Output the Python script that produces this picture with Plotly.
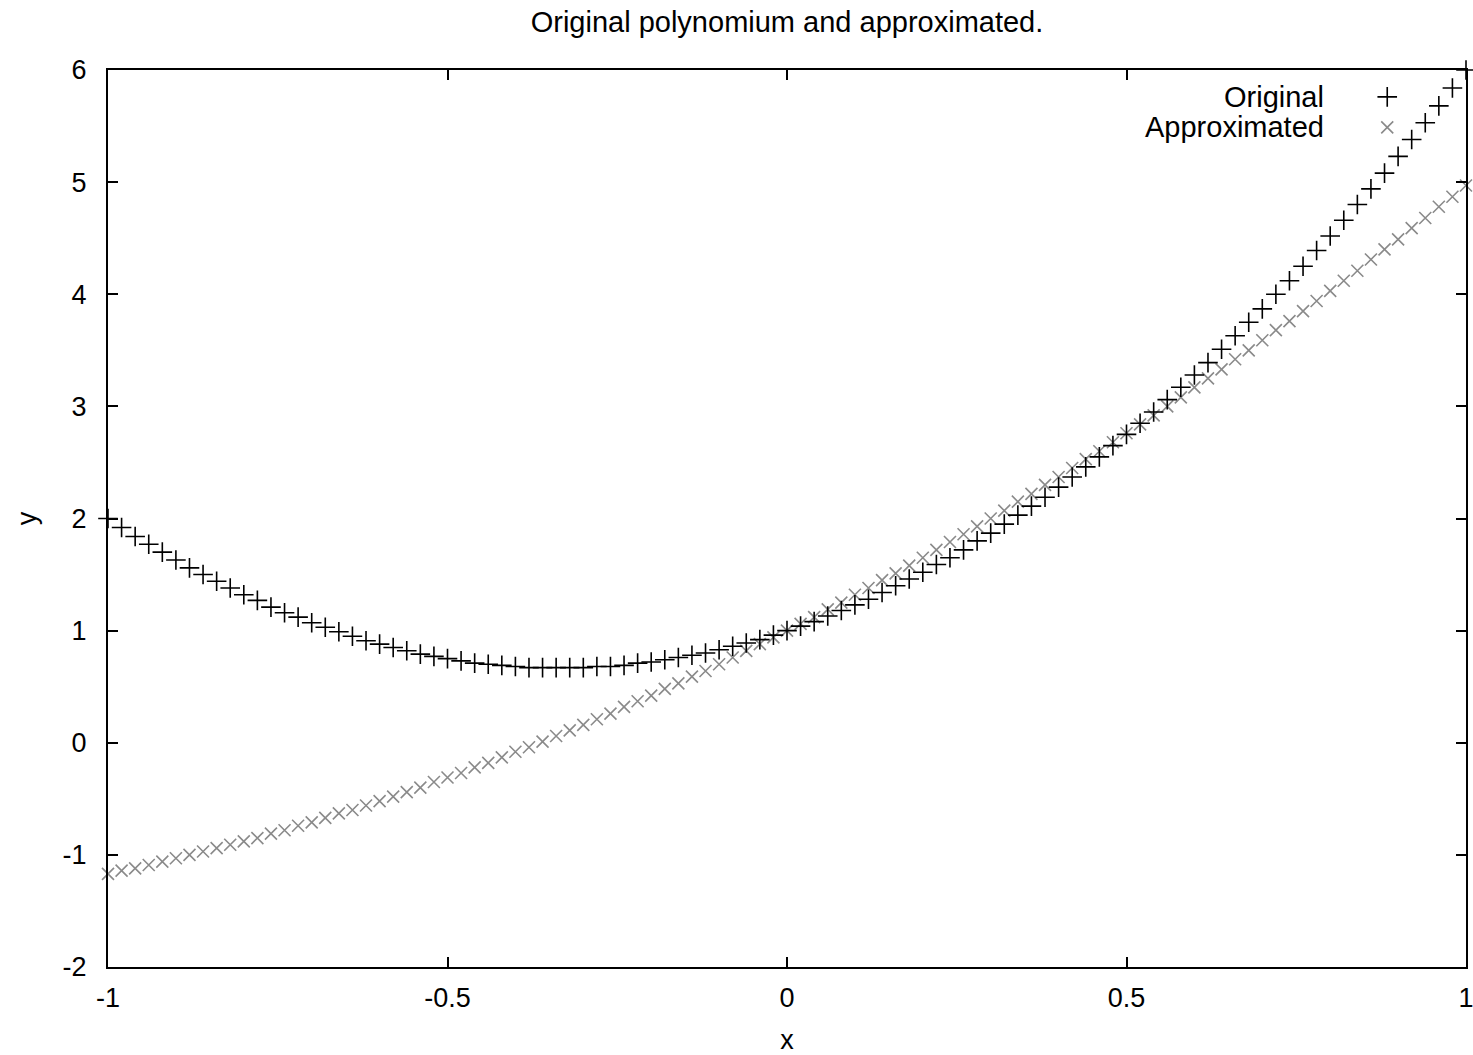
import plotly.graph_objects as go

# x positions (step 0.02 from -1 to 1)
x_vals = [round(-1 + 0.02 * i, 2) for i in range(101)]

original = [
    2.00, 1.92, 1.84, 1.77, 1.70, 1.63, 1.56, 1.50, 1.44, 1.38,
    1.32, 1.27, 1.21, 1.16, 1.12, 1.07, 1.03, 0.99, 0.95, 0.91,
    0.88, 0.85, 0.82, 0.79, 0.77, 0.75, 0.73, 0.71, 0.70, 0.69,
    0.68, 0.67, 0.67, 0.67, 0.67, 0.67, 0.68, 0.68, 0.69, 0.71,
    0.72, 0.74, 0.76, 0.78, 0.80, 0.83, 0.86, 0.89, 0.92, 0.96,
    1.00, 1.04, 1.08, 1.13, 1.18, 1.23, 1.28, 1.34, 1.40, 1.46,
    1.52, 1.59, 1.65, 1.72, 1.80, 1.87, 1.95, 2.03, 2.11, 2.19,
    2.28, 2.37, 2.46, 2.55, 2.65, 2.75, 2.85, 2.95, 3.06, 3.17,
    3.28, 3.39, 3.51, 3.63, 3.75, 3.87, 4.00, 4.12, 4.25, 4.39,
    4.52, 4.66, 4.80, 4.94, 5.08, 5.23, 5.38, 5.53, 5.68, 5.84,
    6.00,
]

approximated = [
    -1.17, -1.14, -1.12, -1.09, -1.06, -1.03, -1.00, -0.97, -0.94, -0.91,
    -0.88, -0.85, -0.81, -0.78, -0.74, -0.71, -0.67, -0.63, -0.60, -0.56,
    -0.52, -0.48, -0.44, -0.40, -0.35, -0.31, -0.27, -0.22, -0.18, -0.13,
    -0.08, -0.04, 0.01, 0.06, 0.11, 0.16, 0.21, 0.26, 0.32, 0.37,
    0.42, 0.48, 0.53, 0.59, 0.64, 0.70, 0.76, 0.82, 0.88, 0.94,
    1.00, 1.06, 1.12, 1.19, 1.25, 1.32, 1.38, 1.45, 1.51, 1.58,
    1.65, 1.72, 1.79, 1.86, 1.93, 2.00, 2.07, 2.15, 2.22, 2.30,
    2.37, 2.45, 2.53, 2.60, 2.68, 2.76, 2.84, 2.92, 3.00, 3.08,
    3.17, 3.25, 3.33, 3.42, 3.50, 3.59, 3.68, 3.76, 3.85, 3.94,
    4.03, 4.12, 4.21, 4.31, 4.40, 4.49, 4.59, 4.68, 4.78, 4.87,
    4.97,
]

x_ticks = [-1, -0.5, 0, 0.5, 1]
x_tick_labels = ["-1", "-0.5", "0", "0.5", "1"]
y_ticks = [-2, -1, 0, 1, 2, 3, 4, 5, 6]
y_tick_labels = ["-2", "-1", "0", "1", "2", "3", "4", "5", "6"]
series_names = ["Original", "Approximated"]

FONT = "Liberation Sans, Arial, sans-serif"
GRAY = "#8a8a8a"
TICK_SIZE = 27
TEXT_SIZE = 29

fig = go.Figure()

fig.add_trace(go.Scatter(
    x=x_vals, y=approximated, mode="markers", name=series_names[1],
    marker=dict(symbol="x-thin", size=12, line=dict(color=GRAY, width=1.6)),
    showlegend=False, cliponaxis=False,
))
fig.add_trace(go.Scatter(
    x=x_vals, y=original, mode="markers", name=series_names[0],
    marker=dict(symbol="cross-thin", size=14, line=dict(color="black", width=1.6)),
    showlegend=False, cliponaxis=False,
))

# legend keys on a hidden overlay axis (0..1 space)
fig.add_trace(go.Scatter(
    x=[0.942], y=[0.970], xaxis="x2", yaxis="y2", mode="markers",
    marker=dict(symbol="cross-thin", size=14, line=dict(color="black", width=1.6)),
    showlegend=False, hoverinfo="skip",
))
fig.add_trace(go.Scatter(
    x=[0.942], y=[0.936], xaxis="x2", yaxis="y2", mode="markers",
    marker=dict(symbol="x-thin", size=12, line=dict(color=GRAY, width=1.6)),
    showlegend=False, hoverinfo="skip",
))

for name, ypos in zip(series_names, [0.970, 0.936]):
    fig.add_annotation(
        x=0.897, y=ypos, xref="paper", yref="paper", text=name,
        showarrow=False, xanchor="right", yanchor="middle",
        font=dict(family=FONT, size=TEXT_SIZE, color="black"),
    )

axis_common = dict(
    showline=True, linecolor="black", linewidth=2, mirror="ticks",
    ticks="inside", ticklen=10, tickwidth=1.5, tickcolor="black",
    showgrid=False, zeroline=False, automargin=False,
    ticklabeloverflow="allow",
    tickfont=dict(family=FONT, size=TICK_SIZE, color="black"),
)

fig.update_layout(
    width=1473, height=1055,
    paper_bgcolor="white", plot_bgcolor="white",
    margin=dict(l=108, r=7, t=70, b=88, autoexpand=False),
    title=dict(
        text="Original polynomium and approximated.",
        x=(108 + 1466) / 2 / 1473, xanchor="center",
        y=1 - 22 / 1055, yanchor="middle", yref="container",
        font=dict(family=FONT, size=TEXT_SIZE, color="black"),
    ),
    xaxis=dict(
        range=[-1, 1], tickvals=x_ticks, ticktext=x_tick_labels,
        ticklabelstandoff=6,
        title=dict(text="x", font=dict(family=FONT, size=TICK_SIZE, color="black"), standoff=25),
        **axis_common,
    ),
    yaxis=dict(
        range=[-2, 6], tickvals=y_ticks, ticktext=y_tick_labels,
        ticklabelstandoff=14,
        title=dict(text="y", font=dict(family=FONT, size=TICK_SIZE, color="black"), standoff=18),
        **axis_common,
    ),
    xaxis2=dict(overlaying="x", range=[0, 1], visible=False),
    yaxis2=dict(overlaying="y", range=[0, 1], visible=False),
    showlegend=False,
)

fig.write_html(
    "out.html",
    config={"displayModeBar": False},
    post_script="document.body.style.margin='0';document.body.style.overflow='hidden';",
)
